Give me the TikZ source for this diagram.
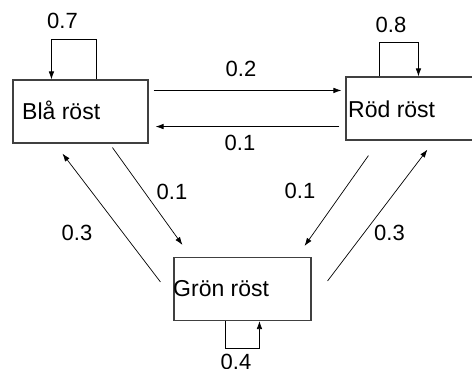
\documentclass[tikz,border=0pt]{standalone}
\usepackage{fontspec}
\setmainfont{Liberation Sans}
\usetikzlibrary{arrows.meta,calc}

\tikzset{
  state/.style={draw=black!75, line width=1.1pt, minimum width=#1, minimum height=63pt, inner sep=0pt},
  statetext/.style={anchor=base west, inner sep=0pt, font=\fontsize{23}{27}\selectfont},
  prob/.style={inner sep=0pt, font=\fontsize{22}{26}\selectfont},
  trans/.style={line width=0.7pt, -{Latex[length=8pt,width=5.5pt]}}
}

\begin{document}
\begin{tikzpicture}[x=1pt,y=-1pt]
  \useasboundingbox (0,0) rectangle (472,368);
  \clip (0,0) rectangle (472,368);

  % the three states
  \node[state=135pt] (bla)  at (80.5,111.5) {};
  \node[state=140pt] (rod)  at (416,108.5) {};
  \node[state=137pt] (gron) at (242.5,289) {};

  \node[statetext] (blatext)  at (22,119.5) {Blå röst};
  \node[statetext] (rodtext)  at (348,117)  {Röd röst};
  \node[statetext] (grontext) at (173,296)  {Grön röst};

  % self loops
  \draw[trans] ($(bla.north west)+(84,0)$) -- ++(0,-40) -| ($(bla.north west)+(39,0)$);
  \draw[trans] ($(rod.north west)+(34,0)$) -- ++(0,-34) -| ($(rod.north west)+(73,0)$);
  \draw[trans] ($(gron.south west)+(52,0)$) -- ++(0,27) -| ($(gron.south west)+(86,0)$);

  % transitions between the states
  \draw[trans] ($(bla.north east)+(5,11)$) -- ($(rod.north west)+(-4,14)$);
  \draw[trans] ($(rod.south west)+(-6,-14)$) -- ($(bla.south east)+(7,-17)$);
  \draw[trans] ($(bla.south west)+(100,4)$) -- ($(gron.north west)+(9,-12)$);
  \draw[trans] ($(gron.north west)+(-13,25)$) -- ($(bla.south west)+(50,10)$);
  \draw[trans] ($(rod.south west)+(23,15)$) -- ($(gron.north east)+(-7,-11)$);
  \draw[trans] ($(gron.north east)+(16,24)$) -- ($(rod.south west)+(82,9)$);

  % probabilities
  \node[prob] (p77) at (62.5,20.5) {0.7};
  \node[prob] (p88) at (391,24.5)  {0.8};
  \node[prob] (p44) at (236,362)   {0.4};
  \node[prob] (p12) at (241,69)    {0.2};
  \node[prob] (p21) at (240,142.5) {0.1};
  \node[prob] (p13) at (172,192)   {0.1};
  \node[prob] (p31) at (77,232.5)  {0.3};
  \node[prob] (p23) at (300,190.5) {0.1};
  \node[prob] (p32) at (389.5,232.5) {0.3};
\end{tikzpicture}
\end{document}
